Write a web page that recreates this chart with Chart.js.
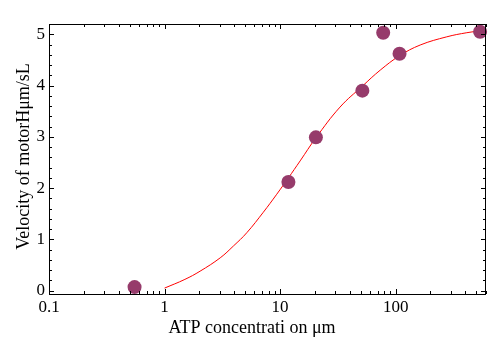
<!DOCTYPE html>
<html>
<head>
<meta charset="utf-8">
<script src="https://cdn.jsdelivr.net/npm/chart.js@4/dist/chart.umd.min.js"></script>
<style>
  html, body { margin: 0; padding: 0; background: #fff; }
</style>
</head>
<body>
<canvas id="chart" width="500" height="347"></canvas>
<script>
"use strict";

// measured points (ATP concentration, velocity)
const atpConc = [0.55, 11.8, 20.4, 51.5, 78, 108, 538];
const velocity = [0.07, 2.12, 2.99, 3.90, 5.03, 4.62, 5.05];

// fitted curve
const fitConc = [1, 1.5, 2.03, 3.03, 3.94, 5.15, 7.16, 9.35, 11.8, 14.9, 20.4, 33, 51.6, 73.5, 108, 163, 277, 413, 605];
const fitVel = [0.05, 0.22, 0.38, 0.64, 0.87, 1.13, 1.53, 1.88, 2.20, 2.53, 2.98, 3.58, 3.99, 4.30, 4.58, 4.79, 4.95, 5.03, 5.08];

// axis ticks
const xTickValues = [0.1, 1, 10, 100];
const xTickLabels = ['0.1', '1', '10', '100'];
const yTickValues = [0, 1, 2, 3, 4, 5];
const yTickLabels = ['0', '1', '2', '3', '4', '5'];

const xTitle = 'ATP concentrati on \u03bcm';
const yTitle = 'Velocity of motorH\u03bcm/sL';

const FONT = '"Liberation Serif", "Times New Roman", serif';
const markerColor = '#963b6b';

/**
 * Draws the frame, the inward ticks on all four sides and the axis titles.
 */
const framePlugin = {
  id: 'frame',
  afterDraw(chart) {
    const ctx = chart.ctx;
    const area = chart.chartArea;
    const xs = chart.scales.x;
    const ys = chart.scales.y;

    ctx.save();
    ctx.strokeStyle = '#000';
    ctx.lineWidth = 1;
    ctx.strokeRect(area.left + 0.5, area.top + 0.5, area.right - area.left - 1, area.bottom - area.top);

    ctx.beginPath();
    // x ticks, major and minor (log)
    xTickValues.forEach(dec => {
      for (let m = 1; m <= 9; m++) {
        const v = dec * m;
        if (v > xs.max) break;
        const px = Math.round(xs.getPixelForValue(v)) + 0.5;
        const len = m === 1 ? 5 : 3;
        ctx.moveTo(px, area.bottom);
        ctx.lineTo(px, area.bottom - len);
        ctx.moveTo(px, area.top);
        ctx.lineTo(px, area.top + len);
      }
    });
    // y ticks, major every 1, minor every 0.2
    for (let i = 0; i <= 25; i++) {
      const v = i / 5;
      if (v > ys.max) break;
      const py = Math.round(ys.getPixelForValue(v)) + 0.5;
      const len = i % 5 === 0 ? 5 : 3;
      ctx.moveTo(area.left, py);
      ctx.lineTo(area.left + len, py);
      ctx.moveTo(area.right, py);
      ctx.lineTo(area.right - len, py);
    }
    ctx.stroke();

    // axis titles
    ctx.fillStyle = '#000';
    ctx.font = '18px ' + FONT;
    ctx.textAlign = 'center';
    ctx.textBaseline = 'alphabetic';
    ctx.fillText(xTitle, 252, 333);

    ctx.translate(29, 156.5);
    ctx.rotate(-Math.PI / 2);
    ctx.fillText(yTitle, 0, 0);
    ctx.restore();
  }
};

new Chart(document.getElementById('chart'), {
  type: 'scatter',
  data: {
    datasets: [
      {
        label: 'data',
        data: atpConc.map((x, i) => ({ x: x, y: velocity[i] })),
        backgroundColor: markerColor,
        borderColor: markerColor,
        pointRadius: 7,
        pointBorderWidth: 0,
        clip: false,
        order: 0
      },
      {
        label: 'fit',
        type: 'line',
        data: fitConc.map((x, i) => ({ x: x, y: fitVel[i] })),
        borderColor: '#ff0000',
        borderWidth: 1,
        pointRadius: 0,
        tension: 0.4,
        fill: false,
        order: 1
      }
    ]
  },
  options: {
    responsive: false,
    animation: false,
    layout: { padding: { top: 24, right: 14, left: 0, bottom: 0 } },
    plugins: {
      legend: { display: false },
      tooltip: { enabled: false }
    },
    scales: {
      x: {
        type: 'logarithmic',
        min: 0.1,
        max: 605,
        grid: { display: false, drawTicks: false },
        border: { display: false },
        afterBuildTicks: scale => {
          scale.ticks = xTickValues.map(v => ({ value: v }));
        },
        afterFit: scale => { scale.height = 53; },
        ticks: {
          autoSkip: false,
          maxRotation: 0,
          padding: 3,
          color: '#000',
          font: { family: FONT, size: 17 },
          callback: (value, index) => xTickLabels[index]
        }
      },
      y: {
        min: -0.065,
        max: 5.2,
        grid: { display: false, drawTicks: false },
        border: { display: false },
        afterBuildTicks: scale => {
          scale.ticks = yTickValues.map(v => ({ value: v }));
        },
        afterFit: scale => { scale.width = 49; },
        ticks: {
          autoSkip: false,
          padding: 4,
          color: '#000',
          font: { family: FONT, size: 17 },
          callback: (value, index) => yTickLabels[index]
        }
      }
    }
  },
  plugins: [framePlugin]
});
</script>
</body>
</html>
